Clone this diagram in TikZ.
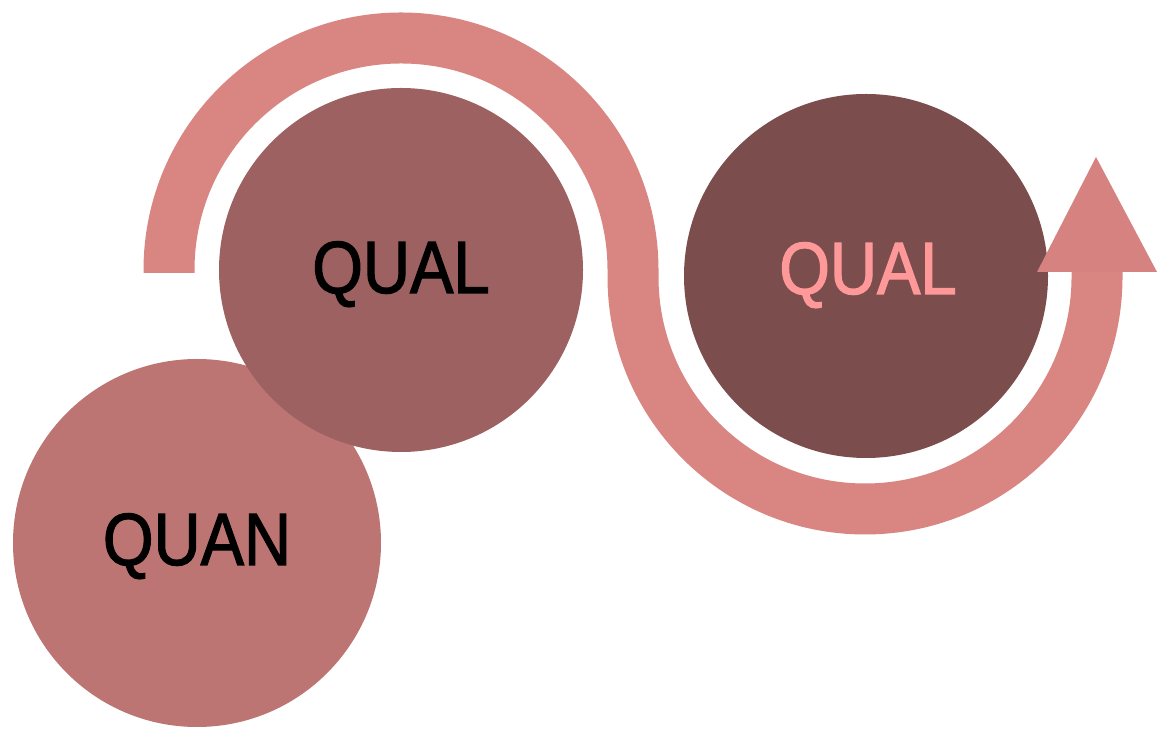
\documentclass[tikz,border=0pt]{standalone}
\usepackage{fontspec}
\newfontfamily\lblfont[FakeStretch=0.88,FakeBold=1.6]{Liberation Sans}
\definecolor{bandc}{RGB}{217,134,131}
\definecolor{headc}{RGB}{213,130,128}
\definecolor{quanc}{RGB}{189,117,115}
\definecolor{qualmid}{RGB}{156,97,96}
\definecolor{qualright}{RGB}{123,77,77}
\definecolor{pinktext}{RGB}{255,153,153}
\tikzset{
  disc/.style={circle, inner sep=0pt, minimum size=#1, draw=none},
  lbl/.style={inner sep=0pt, anchor=base, font=\lblfont\fontsize{74}{80}\selectfont},
  band/.style={draw=bandc, line width=51pt, line cap=butt, line join=round},
}
\begin{document}
\begin{tikzpicture}[x=1pt,y=1pt]
\useasboundingbox (0,0) rectangle (1158,730);
% circles
\node[disc=368pt, fill=quanc] (quan) at (197,187) {};
\node[disc=364pt, fill=qualmid] (qualA) at (401,460) {};
\node[disc=364pt, fill=qualright] (qualB) at (866,454) {};
% labels
\node[lbl, text=black] (tquan) at (197,165) {QUAN};
\node[lbl, text=black] (tqualA) at (401,437) {QUAL};
\node[lbl, text=pinktext] (tqualB) at (868,436) {QUAL};
% band
\coordinate (bstart) at (169,457);
\coordinate (bmid) at (633,453);
\coordinate (bend) at (1097,458);
\draw[band] (bstart) -- (169,460) arc[start angle=180, end angle=0, radius=232pt]
  -- (bmid) arc[start angle=180, end angle=360, radius=232pt] -- (bend);
% arrow head
\coordinate (hl) at (1037,458);
\coordinate (hr) at (1157,458);
\coordinate (htip) at (1096,573);
\fill[headc] (hl) -- (hr) -- (htip) -- cycle;
\end{tikzpicture}
\end{document}
